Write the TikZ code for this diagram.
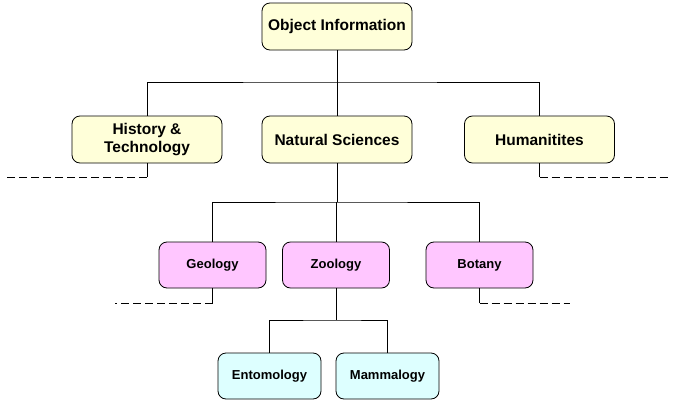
\documentclass[tikz,border=0pt]{standalone}
\usepackage{fontspec}
\setmainfont{Liberation Sans}
\begin{document}
\begin{tikzpicture}[x=1pt,y=-1pt,
  box/.style={draw=black,line width=0.8pt,rounded corners=8pt,align=center,font=\bfseries,inner sep=0pt},
  lvA/.style={box,fill=yellowbox,minimum width=150pt,minimum height=47pt,font=\bfseries\fontsize{15.5}{18}\selectfont},
  lvB/.style={box,fill=pinkbox,minimum width=107pt,minimum height=46pt,font=\bfseries\fontsize{13}{15}\selectfont},
  lvC/.style={box,fill=cyanbox,minimum width=103pt,minimum height=46pt,font=\bfseries\fontsize{13}{15}\selectfont},
  conn/.style={draw=black,line width=0.8pt},
  dconn/.style={draw=black,line width=0.8pt,dash pattern=on 8pt off 4pt}]
\definecolor{yellowbox}{HTML}{FFFFD9}
\definecolor{pinkbox}{HTML}{FFC6FF}
\definecolor{cyanbox}{HTML}{DDFFFF}
\useasboundingbox[fill=white] (0,0) rectangle (673,402);
\node[lvA] (obj) at (337,26.5) {Object Information};
\node[lvA] (hist) at (147,139.5) {History \&\\Technology};
\node[lvA] (nat) at (337,139.5) {Natural Sciences};
\node[lvA] (hum) at (539.5,139.5) {Humanitites};
\node[lvB] (geo) at (212.5,265) {Geology};
\node[lvB] (zoo) at (336,265) {Zoology};
\node[lvB] (bot) at (479.5,265) {Botany};
\node[lvC] (ent) at (269.5,376) {Entomology};
\node[lvC] (mam) at (387.5,376) {Mammalogy};
% level 1 connectors
\coordinate (j1) at (337,82);
\draw[conn] (obj.south) -- (j1);
\draw[conn] (hist.north) |- (j1) -| (hum.north);
\draw[conn] (j1) -- (nat.north);
% level 2 connectors
\coordinate (j2) at (337,202);
\draw[conn] (nat.south) -- (j2);
\draw[conn] (geo.north) |- (j2) -| (bot.north);
\draw[conn] (zoo.north) -- (zoo.north |- j2);
% level 3 connectors
\coordinate (j3) at (336,320);
\draw[conn] (zoo.south) -- (j3);
\draw[conn] (ent.north) |- (j3) -| (mam.north);
% dashed continuations
\coordinate (hd) at (147,177);
\coordinate (hdl) at (5,177);
\draw[conn] (hist.south) -- (hd);
\draw[dconn] (hd) -- (hdl);
\coordinate (ud) at (539.5,177);
\coordinate (udr) at (668,177);
\draw[conn] (hum.south) -- (ud);
\draw[dconn] (ud) -- (udr);
\coordinate (gd) at (212.5,303);
\coordinate (gdl) at (115,303);
\draw[conn] (geo.south) -- (gd);
\draw[dconn] (gd) -- (gdl);
\coordinate (bd) at (479.5,303);
\coordinate (bdr) at (570,303);
\draw[conn] (bot.south) -- (bd);
\draw[dconn] (bd) -- (bdr);
\end{tikzpicture}
\end{document}
